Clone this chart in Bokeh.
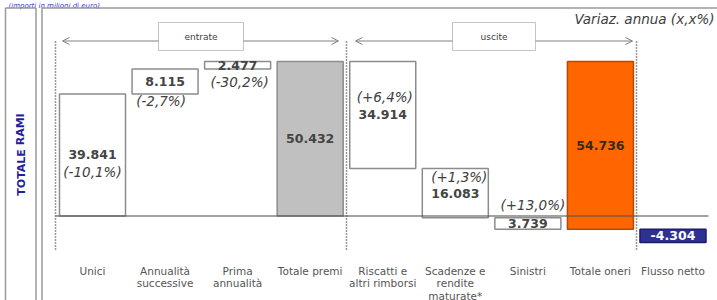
from bokeh.plotting import figure
from bokeh.models import Range1d, ColumnDataSource, Arrow, OpenHead
from bokeh.core.properties import value
from bokeh.embed import file_html
from bokeh.resources import INLINE

# ---------------- data (milioni di euro) ----------------
cat_lines = [["Unici"], ["Annualità", "successive"], ["Prima", "annualità"], ["Totale premi"],
             ["Riscatti e", "altri rimborsi"], ["Scadenze e", "rendite", "maturate*"],
             ["Sinistri"], ["Totale oneri"], ["Flusso netto"]]
entrate = [39841, 8115, 2477]
totale_premi = 50432
uscite = [34914, 16083, 3739]
totale_oneri = 54736
flusso_netto = -4304
variazioni = ["(-10,1%)", "(-2,7%)", "(-30,2%)", "", "(+6,4%)", "(+1,3%)", "(+13,0%)", "", ""]
header_left = "TOTALE RAMI"
note_right = "Variaz. annua (x,x%)"
note_top = "(importi in milioni di euro)"
group_labels = ["entrate", "uscite"]

# ---------------- layout helpers (page px -> data) ----------------
W, H = 717, 300
X0, DX = 92.0, 72.56          # page x of first category centre, spacing
Y0, SY = 215.5, 3.065         # page y of zero line, px per thousand

def X(px):
    return (px - X0) / DX

def Y(py):
    return (Y0 - py) / SY

p = figure(width=W, height=H, output_backend="svg", toolbar_location=None,
           x_range=Range1d(X(0), X(W)), y_range=Range1d(Y(H), Y(0)),
           x_axis_location=None, y_axis_location=None, min_border=0,
           outline_line_color=None, background_fill_color="white",
           border_fill_color="white")
p.grid.visible = False

# ---------------- waterfall geometry from data ----------------
k = lambda v: v / 1000.0
bottoms, tops, vals = [], [], []
run = 0
for v in entrate:
    bottoms.append(k(run)); tops.append(k(run + v)); vals.append(v); run += v
bottoms.append(0); tops.append(k(totale_premi)); vals.append(totale_premi)
run = totale_premi
for v in uscite:
    bottoms.append(k(run - v)); tops.append(k(run)); vals.append(v); run -= v
bottoms.append(k(totale_premi - totale_oneri)); tops.append(k(totale_premi)); vals.append(totale_oneri)
bottoms.append(k(2 * flusso_netto)); tops.append(k(flusso_netto)); vals.append(flusso_netto)

n = len(vals)
xs = list(range(n))
bw = 0.91
fills = ["white", "white", "white", "#c0c0c0", "white", "white", "white", "#ff6600", "#2e3192"]
outlines = ["#8c8c8c"] * 7 + ["#b84a00", "#1c1c6e"]
txtcol = ["#444444"] * 7 + ["#3a2a1a", "white"]

# ---------------- frame lines ----------------
p.text(x=[X(8)], y=[Y(5.5)], text=[note_top], text_font=value("DejaVu Sans"),
       text_font_style="italic", text_font_size="7px", text_color="#3a3acc",
       text_align="left", text_baseline="alphabetic")

p.segment(x0=[X(5), X(35.5), X(41.5)], y0=[Y(7.5)] * 3, x1=[X(5), X(35.5), X(41.5)], y1=[Y(310)] * 3,
          line_color="#9a9a9a", line_width=1.5)
p.segment(x0=[X(5), X(41.5)], y0=[Y(7.5)] * 2, x1=[X(35.5), X(717)], y1=[Y(7.5)] * 2,
          line_color="#9a9a9a", line_width=1.5)

p.text(x=[X(20.5)], y=[Y(154)], text=[header_left], angle=1.5708,
       text_font=value("DejaVu Sans"), text_font_style="bold", text_font_size="11px",
       text_color="#1f1f9e", text_align="center", text_baseline="middle")

p.text(x=[X(714)], y=[Y(18)], text=[note_right], text_font=value("DejaVu Sans"),
       text_font_style="italic", text_font_size="13.5px", text_color="#404040",
       text_align="right", text_baseline="middle")

# dotted separators
p.segment(x0=[X(55), X(346), X(636)], y0=[Y(41)] * 3, x1=[X(55), X(346), X(636)], y1=[Y(250)] * 3,
          line_color="#333333", line_width=1.5, line_dash="1 2")

# group arrows
arrow_color = "#808080"
for (tip_l, box_l, box_r, tip_r) in [(62, 158, 243, 338), (355, 452, 535, 632)]:
    for (a, b) in [(box_l, tip_l), (box_r, tip_r)]:
        p.add_layout(Arrow(x_start=X(a), y_start=Y(40.5), x_end=X(b), y_end=Y(40.5),
                           line_color=arrow_color, line_width=1,
                           end=OpenHead(size=7, line_color=arrow_color, line_width=1)))
p.quad(left=[X(158), X(452)], right=[X(243), X(535)], top=[Y(22)] * 2, bottom=[Y(50)] * 2,
       fill_color="white", line_color="#c4c4c4", line_width=1)
p.text(x=[X(200.5), X(493.5)], y=[Y(36)] * 2, text=group_labels, text_font=value("DejaVu Sans"),
       text_font_size="9px", text_color="#404040", text_align="center", text_baseline="middle")

# ---------------- bars ----------------
src = ColumnDataSource(dict(
    left=[x - bw / 2 for x in xs], right=[x + bw / 2 for x in xs],
    bottom=bottoms, top=tops, fill=fills, line=outlines))
p.quad(left="left", right="right", bottom="bottom", top="top", source=src,
       fill_color="fill", line_color="line", line_width=1.5)

# zero line
p.segment(x0=[X(55)], y0=[0], x1=[X(708)], y1=[0], line_color="#555555", line_alpha=0.55, line_width=2)

# value labels
labels = [f"{v:,}".replace(",", ".") for v in vals]
mids = [(b + t) / 2 for b, t in zip(bottoms, tops)]
p.text(x=xs, y=mids, text=labels, text_font=value("DejaVu Sans"), text_font_style="bold",
       text_font_size="12.5px", text_color=txtcol, text_align="center", text_baseline="middle")

# percent labels (offset in px from value label)
pct_off = [17, 20, 17, 0, -18, -16, -18, 0, 0]
pct_dx = [0, -4, 2, 0, 2, 4, 5, 0, 0]
pidx = [i for i in range(n) if variazioni[i]]
p.text(x=[xs[i] for i in pidx], y=[mids[i] for i in pidx], text=[variazioni[i] for i in pidx],
       x_offset=[pct_dx[i] for i in pidx], y_offset=[pct_off[i] for i in pidx],
       text_font=value("DejaVu Sans"), text_font_style="italic", text_font_size="13.5px",
       text_color="#404040", text_align="center", text_baseline="middle")

# category labels
cx, cy, ct = [], [], []
for i, lines in enumerate(cat_lines):
    for j, t in enumerate(lines):
        cx.append(xs[i]); cy.append(Y(270 + 12.5 * j)); ct.append(t)
p.text(x=cx, y=cy, text=ct, text_font=value("DejaVu Sans"), text_font_size="10.5px",
       text_color="#555555", text_align="center", text_baseline="middle")

open("out.html", "w").write(file_html(p, INLINE))
